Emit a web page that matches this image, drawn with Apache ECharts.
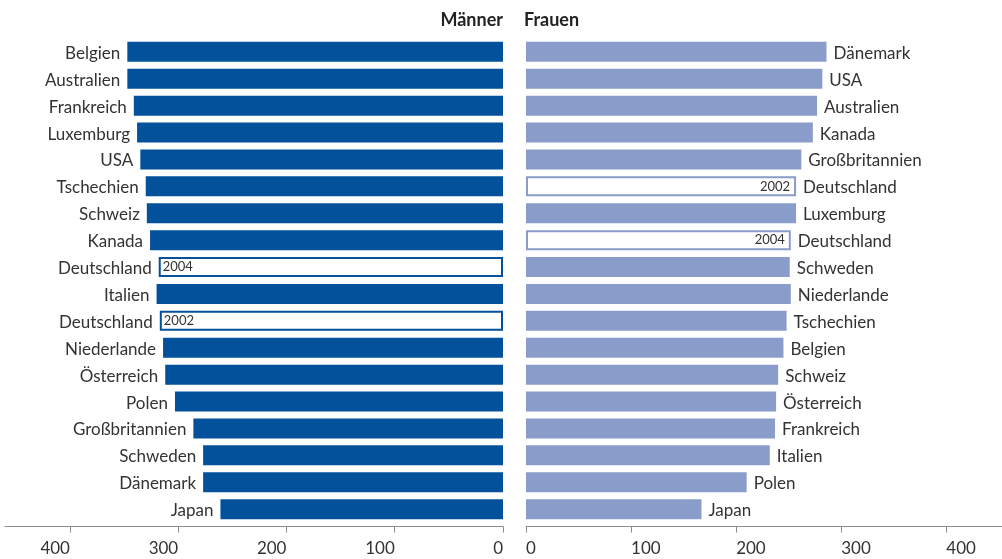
<!DOCTYPE html>
<html>
<head>
<meta charset="utf-8">
<script src="https://cdn.jsdelivr.net/npm/echarts@6/dist/echarts.min.js"></script>
<style>
html,body{margin:0;padding:0;background:#fff;}
#chart{width:1002px;height:559px;}
</style>
</head>
<body>
<div id="chart"></div>
<script>
const menNames = ['Belgien','Australien','Frankreich','Luxemburg','USA','Tschechien','Schweiz','Kanada','Deutschland','Italien','Deutschland','Niederlande','Österreich','Polen','Großbritannien','Schweden','Dänemark','Japan'];
const menValues = [347,347,341,338,335,330,329,326,318,320,317,314,312,303,286,277,277,261];
const menYears = ['','','','','','','','','2004','','2002','','','','','','',''];

const womenNames = ['Dänemark','USA','Australien','Kanada','Großbritannien','Deutschland','Luxemburg','Deutschland','Schweden','Niederlande','Tschechien','Belgien','Schweiz','Österreich','Frankreich','Italien','Polen','Japan'];
const womenValues = [286,282,277,273,262,257,257,252,251,252,248,245,240,238,237,232,210,167];
const womenYears = ['','','','','','2002','','2004','','','','','','','','','',''];

const tickValues = [0,100,200,300,400];
const titleMen = 'Männer';
const titleWomen = 'Frauen';

const DARK = '#03519b';
const LIGHT = '#8a9cc9';
const TXT = '#333333';
const FONT = 'Lato';

const chart = echarts.init(document.getElementById('chart'), null, {renderer: 'canvas'});

function mainData(values, years, color) {
  return values.map((v, i) => years[i]
    ? {value: v, itemStyle: {color: '#ffffff', borderColor: color, borderWidth: 2}}
    : {value: v, itemStyle: {color: color}});
}
function yearData(values, years) {
  return values.map((v, i) => years[i] ? v : '-');
}
function xAxisCfg(gridIndex, inverse, max, align) {
  return {
    gridIndex, type: 'value', inverse, min: 0, max,
    offset: 4,
    splitLine: {show: false},
    axisLine: {show: true, lineStyle: {color: '#8c8c8c', width: 1}},
    axisTick: {show: true, length: 6, inside: false, customValues: tickValues, lineStyle: {color: '#8c8c8c'}},
    axisLabel: {show: true, customValues: tickValues, align, margin: 13, color: TXT, fontFamily: FONT, fontSize: 17}
  };
}

const idx = menNames.map((_, i) => i);

chart.setOption({
  animation: false,
  backgroundColor: '#ffffff',
  grid: [
    {left: 5, width: 498, top: 38.4, height: 484.2},
    {left: 526, width: 476, top: 38.4, height: 484.2}
  ],
  xAxis: [
    xAxisCfg(0, true, 460, 'right'),
    xAxisCfg(1, false, 453, 'left')
  ],
  yAxis: [
    {gridIndex: 0, type: 'category', inverse: true, data: idx, show: false},
    {gridIndex: 1, type: 'category', inverse: true, data: idx, show: false}
  ],
  graphic: [
    {type: 'text', x: 503, y: 20, style: {text: titleMen, align: 'right', verticalAlign: 'middle', fill: '#222', font: 'bold 18px ' + FONT}},
    {type: 'text', x: 524, y: 20, style: {text: titleWomen, align: 'left', verticalAlign: 'middle', fill: '#222', font: 'bold 18px ' + FONT}}
  ],
  series: [
    {
      type: 'bar', xAxisIndex: 0, yAxisIndex: 0, barWidth: 20, barGap: '-100%',
      data: mainData(menValues, menYears, DARK),
      label: {show: true, position: 'left', distance: 7, offset: [0, 1.5], color: TXT, fontFamily: FONT, fontSize: 17,
        formatter: p => menNames[p.dataIndex]}
    },
    {
      type: 'bar', xAxisIndex: 0, yAxisIndex: 0, barWidth: 20, barGap: '-100%',
      data: yearData(menValues, menYears),
      itemStyle: {color: 'rgba(0,0,0,0)'},
      label: {show: true, position: 'insideLeft', distance: 4, color: TXT, fontFamily: FONT, fontSize: 13,
        formatter: p => menYears[p.dataIndex]}
    },
    {
      type: 'bar', xAxisIndex: 1, yAxisIndex: 1, barWidth: 20, barGap: '-100%',
      data: mainData(womenValues, womenYears, LIGHT),
      label: {show: true, position: 'right', distance: 7, offset: [0, 1.5], color: TXT, fontFamily: FONT, fontSize: 17,
        formatter: p => womenNames[p.dataIndex]}
    },
    {
      type: 'bar', xAxisIndex: 1, yAxisIndex: 1, barWidth: 20, barGap: '-100%',
      data: yearData(womenValues, womenYears),
      itemStyle: {color: 'rgba(0,0,0,0)'},
      label: {show: true, position: 'insideRight', distance: 6, color: TXT, fontFamily: FONT, fontSize: 13,
        formatter: p => womenYears[p.dataIndex]}
    }
  ]
});
</script>
</body>
</html>
